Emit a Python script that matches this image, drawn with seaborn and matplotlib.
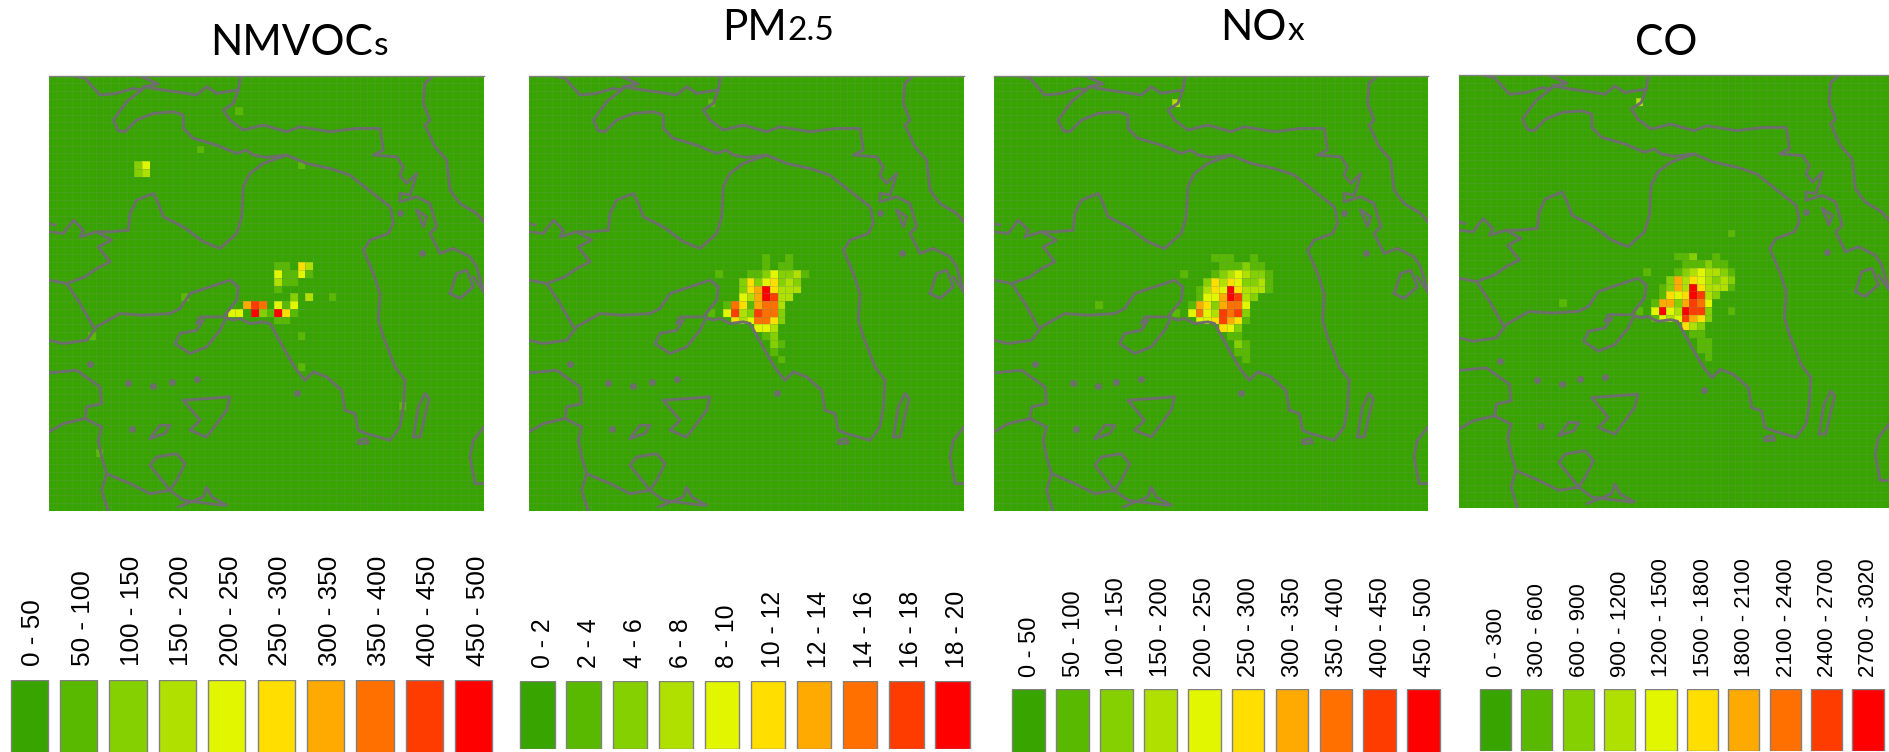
import numpy as np
import pandas as pd
import matplotlib
matplotlib.use('Agg')
import matplotlib.pyplot as plt
from matplotlib.colors import ListedColormap
from matplotlib.transforms import ScaledTranslation
import seaborn as sns

# colour classes, shared by all four panels
class_colors = ['#38a400', '#59b800', '#84d000', '#b0e000', '#e2f600',
                '#ffde00', '#ffaa00', '#ff7000', '#ff3c00', '#ff0000']

# emission classes per grid cell (col, row, class), everything else is class 0
nmvocs_cells = [
    (11, 11, 2), (12, 11, 4), (11, 12, 2), (12, 12, 3), (19, 9, 1), (32, 11, 1), (24, 4, 1),
    (17, 28, 1), (5, 33, 1), (6, 48, 1), (45, 42, 1), (23, 30, 4), (24, 30, 4),
    (29, 24, 1), (30, 24, 1), (32, 24, 5), (33, 24, 3),
    (29, 25, 4), (30, 25, 1), (31, 25, 1), (32, 25, 4), (33, 25, 1),
    (29, 26, 3), (30, 26, 1), (31, 26, 1), (29, 27, 1),
    (31, 28, 2), (33, 28, 3), (36, 28, 1),
    (25, 29, 6), (26, 29, 8), (27, 29, 7), (29, 29, 4), (30, 29, 1), (31, 29, 4),
    (26, 30, 9), (27, 30, 2), (28, 30, 1), (29, 30, 9), (30, 30, 5), (31, 30, 1),
    (29, 31, 1), (30, 31, 1), (32, 33, 1), (32, 37, 1),
]
pm25_cells = [
    (23, 3, 1), (30, 23, 1), (33, 23, 1), (30, 24, 1), (32, 24, 1), (33, 24, 1),
    (24, 25, 1), (28, 25, 1), (29, 25, 1), (30, 25, 2), (31, 25, 4), (32, 25, 2), (33, 25, 2), (34, 25, 3), (35, 25, 1),
    (27, 26, 2), (28, 26, 5), (29, 26, 2), (30, 26, 4), (31, 26, 5), (32, 26, 2), (33, 26, 3), (34, 26, 2),
    (27, 27, 2), (28, 27, 5), (29, 27, 6), (30, 27, 9), (31, 27, 5), (32, 27, 3), (33, 27, 3), (34, 27, 3),
    (27, 28, 4), (28, 28, 3), (29, 28, 6), (30, 28, 9), (31, 28, 8), (32, 28, 3), (33, 28, 3),
    (25, 29, 1), (26, 29, 7), (27, 29, 5), (28, 29, 1), (29, 29, 6), (30, 29, 7), (31, 29, 7), (32, 29, 3),
    (23, 30, 1), (25, 30, 4), (26, 30, 8), (27, 30, 3), (28, 30, 2), (29, 30, 8), (30, 30, 7), (31, 30, 7), (32, 30, 2),
    (26, 31, 5), (27, 31, 3), (28, 31, 4), (29, 31, 7), (30, 31, 7), (31, 31, 5), (32, 31, 2),
    (29, 32, 4), (30, 32, 4), (31, 32, 3), (30, 33, 1), (31, 33, 2), (31, 34, 2), (32, 34, 1), (31, 35, 1), (32, 36, 1),
]
nox_cells = [
    (23, 3, 3), (13, 29, 1), (28, 23, 1), (29, 23, 1), (30, 23, 1), (33, 23, 1),
    (29, 24, 1), (30, 24, 1), (31, 24, 1), (32, 24, 2), (33, 24, 1), (34, 24, 1),
    (24, 25, 1), (28, 25, 1), (29, 25, 2), (30, 25, 3), (31, 25, 4), (32, 25, 3), (33, 25, 2), (34, 25, 2), (35, 25, 1),
    (27, 26, 2), (28, 26, 5), (29, 26, 3), (30, 26, 5), (31, 26, 4), (32, 26, 2), (33, 26, 2), (34, 26, 3), (35, 26, 1),
    (26, 27, 1), (27, 27, 3), (28, 27, 5), (29, 27, 4), (30, 27, 9), (31, 27, 5), (32, 27, 3), (33, 27, 3), (34, 27, 3), (35, 27, 1),
    (26, 28, 1), (27, 28, 4), (28, 28, 4), (29, 28, 6), (30, 28, 9), (31, 28, 8), (32, 28, 3), (33, 28, 2),
    (25, 29, 1), (26, 29, 6), (27, 29, 5), (28, 29, 2), (29, 29, 6), (30, 29, 7), (31, 29, 7), (32, 29, 4),
    (23, 30, 1), (25, 30, 4), (26, 30, 7), (27, 30, 4), (28, 30, 3), (29, 30, 8), (30, 30, 7), (31, 30, 8), (32, 30, 2),
    (26, 31, 4), (27, 31, 4), (28, 31, 5), (29, 31, 8), (30, 31, 6), (31, 31, 5), (32, 31, 1),
    (29, 32, 5), (30, 32, 4), (31, 32, 2), (30, 33, 1), (31, 33, 1), (31, 34, 2), (32, 34, 1), (31, 35, 1), (32, 35, 1), (32, 36, 1),
]
co_cells = [
    (23, 3, 3), (35, 20, 1), (13, 29, 1), (28, 23, 1), (29, 23, 1), (30, 23, 2), (33, 23, 1),
    (29, 24, 1), (30, 24, 1), (31, 24, 1), (32, 24, 2), (33, 24, 1), (34, 24, 1),
    (24, 25, 1), (28, 25, 1), (29, 25, 2), (30, 25, 3), (31, 25, 4), (32, 25, 3), (33, 25, 3), (34, 25, 2), (35, 25, 1),
    (27, 26, 2), (28, 26, 6), (29, 26, 3), (30, 26, 5), (31, 26, 4), (32, 26, 3), (33, 26, 2), (34, 26, 3), (35, 26, 2),
    (26, 27, 1), (27, 27, 2), (28, 27, 6), (29, 27, 3), (30, 27, 9), (31, 27, 5), (32, 27, 3), (33, 27, 3), (34, 27, 3), (35, 27, 1),
    (26, 28, 1), (27, 28, 5), (28, 28, 4), (29, 28, 5), (30, 28, 9), (31, 28, 8), (32, 28, 3), (33, 28, 2),
    (25, 29, 1), (26, 29, 6), (27, 29, 6), (28, 29, 2), (29, 29, 6), (30, 29, 8), (31, 29, 7), (32, 29, 4),
    (23, 30, 1), (25, 30, 4), (26, 30, 9), (27, 30, 4), (28, 30, 3), (29, 30, 9), (30, 30, 8), (31, 30, 8), (32, 30, 2), (35, 30, 1),
    (25, 31, 1), (26, 31, 4), (27, 31, 3), (28, 31, 4), (29, 31, 8), (30, 31, 6), (31, 31, 5), (32, 31, 2),
    (29, 32, 5), (30, 32, 3), (31, 32, 2), (30, 33, 1), (31, 33, 1), (31, 34, 1), (32, 34, 1), (31, 35, 1), (32, 35, 1), (32, 36, 1),
]

# legend class labels
nmvocs_labels = ['0 - 50', '50 - 100', '100 - 150', '150 - 200', '200 - 250',
                 '250 - 300', '300 - 350', '350 - 400', '400 - 450', '450 - 500']
pm25_labels = ['0 - 2', '2 - 4', '4 - 6', '6 - 8', '8 - 10',
               '10 - 12', '12 - 14', '14 - 16', '16 - 18', '18 - 20']
nox_labels = list(nmvocs_labels)
co_labels = ['0 - 300', '300 - 600', '600 - 900', '900 - 1200', '1200 - 1500',
             '1500 - 1800', '1800 - 2100', '2100 - 2400', '2400 - 2700', '2700 - 3020']

# coastlines, in units where the map spans 0-1305
coast_lines = [
    [(73, 0), (108, 8), (153, 58), (203, 53), (253, 38), (278, 43), (288, 33), (343, 43), (413, 53), (443, 58), (473, 33), (503, 53), (533, 48), (568, 43), (575, 0)],
    [(273, 0), (328, 25), (283, 33)],
    [(568, 43), (553, 83), (523, 103), (543, 133), (583, 163), (643, 148), (713, 168), (753, 153), (843, 168), (923, 158), (993, 158), (1003, 223), (973, 238), (1043, 243), (1063, 273), (1053, 298), (1073, 323), (1103, 293), (1093, 328), (1083, 358), (1053, 353), (1053, 378), (1103, 363), (1143, 383), (1163, 453), (1143, 473), (1173, 533), (1213, 518), (1263, 543), (1283, 573), (1305, 648)],
    [(283, 38), (233, 78), (193, 133), (208, 165), (228, 168), (263, 133), (313, 113), (373, 108), (403, 118), (403, 158), (433, 188), (503, 208), (563, 233), (593, 223), (613, 238), (653, 245), (713, 238), (773, 263), (843, 278), (903, 298), (953, 338), (1023, 393), (1028, 413), (1033, 443), (1018, 473), (963, 493), (943, 523), (973, 593), (993, 653), (988, 733), (1003, 783), (1023, 833), (1038, 873), (1068, 913), (1063, 993), (1053, 1053), (1023, 1093), (953, 1073), (928, 1063), (918, 1013), (888, 1003), (878, 943), (833, 903), (793, 888), (768, 913), (743, 883), (713, 833), (663, 743), (643, 738), (603, 743), (573, 728), (553, 733), (523, 723), (563, 673), (568, 633), (543, 613), (483, 633), (423, 653), (393, 698), (363, 713), (283, 718), (213, 713), (143, 753), (113, 793), (43, 803), (0, 793)],
    [(713, 238), (643, 263), (603, 293), (583, 333), (578, 423), (563, 473), (513, 518), (463, 498), (403, 453), (343, 423), (328, 383), (313, 353), (263, 373), (243, 413), (238, 463), (183, 468), (143, 468), (188, 493), (148, 513), (183, 558), (143, 578), (108, 603), (53, 623), (0, 613)],
    [(0, 468), (43, 473), (73, 433), (103, 463), (93, 483), (143, 468)],
    [(0, 443), (18, 448)],
    [(53, 623), (93, 683), (133, 753)],
    [(513, 723), (453, 723), (443, 743), (463, 733), (443, 763), (393, 773), (378, 803), (423, 833), (473, 813), (513, 763), (528, 733)],
    [(0, 891), (83, 883), (153, 933), (158, 983), (113, 993), (108, 1028), (43, 1043), (0, 1068)],
    [(108, 1028), (158, 1053), (148, 1093), (158, 1143), (173, 1193), (243, 1223), (303, 1253), (363, 1243), (403, 1273), (443, 1278), (523, 1288)],
    [(363, 1243), (303, 1168), (323, 1143), (383, 1133), (408, 1163), (383, 1213), (363, 1243)],
    [(173, 1193), (158, 1243), (178, 1306)],
    [(388, 1293), (463, 1263), (473, 1233), (488, 1263), (533, 1288)],
    [(403, 973), (543, 963), (533, 1003), (503, 1043), (473, 1083), (423, 1063), (453, 1033), (403, 973)],
    [(303, 1088), (333, 1048), (363, 1048), (348, 1073), (303, 1088)],
    [(1093, 1083), (1108, 993), (1128, 953), (1140, 968), (1113, 1083), (1093, 1083)],
    [(928, 1093), (953, 1088), (958, 1101), (928, 1103), (928, 1093)],
    [(1153, 0), (1128, 23), (1123, 83), (1143, 133), (1128, 148), (1158, 213), (1193, 253), (1203, 343), (1233, 383), (1283, 413), (1305, 438)],
    [(1203, 653), (1223, 593), (1253, 583), (1273, 633), (1233, 668), (1203, 653)],
    [(1305, 648), (1273, 603)],
    [(1103, 403), (1133, 423), (1123, 453), (1103, 403)],
    [(1305, 1053), (1273, 1093), (1263, 1143), (1278, 1223), (1305, 1223)],
]
coast_spots = [(238, 921), (313, 931), (248, 1058), (743, 951), (368, 918), (443, 910), (1118, 533), (1053, 413), (123, 863)]

map_boxes = [(49, 75.7, 484, 511), (529, 75.7, 964, 511), (994, 75.7, 1428, 511), (1459, 75, 1889, 507.7)]
# swatch left, right, pitch, top, bottom, label gap, font size, label shift
legend_boxes = [(10.6, 47.8, 49.4, 680, 790, 14, 18.8, 4), (520.3, 554.7, 46.1, 680.7, 749, 13, 17.8, 5),
                (1012.3, 1045, 43.9, 689, 790, 12, 17, 1), (1479.7, 1511, 41.4, 689, 750.7, 12, 16, 1)]
W, H = 1889, 752
N = 56

sns.set_theme(style='white')
plt.rcParams['font.family'] = ['Liberation Sans', 'DejaVu Sans']

fig = plt.figure(figsize=(W / 100, H / 100), dpi=100)
cmap = ListedColormap(class_colors)


def add_axes_px(x0, y0, x1, y1):
    return fig.add_axes([x0 / W, 1 - y1 / H, (x1 - x0) / W, (y1 - y0) / H])


def draw_map(box, cells):
    grid = np.zeros((N, N), dtype=int)
    for c, r, v in cells:
        grid[r, c] = v
    ax = add_axes_px(*box)
    sns.heatmap(grid, ax=ax, cmap=cmap, vmin=-0.5, vmax=9.5, cbar=False,
                linewidths=0.5, linecolor=(0.42, 0.58, 0.36, 0.3), xticklabels=False, yticklabels=False)
    k = N / 1305
    for line in coast_lines:
        xs = [p[0] * k for p in line]
        ys = [p[1] * k for p in line]
        ax.plot(xs, ys, color='#6e6e6e', lw=2.1, solid_joinstyle='round')
    ax.plot([p[0] * k for p in coast_spots], [p[1] * k for p in coast_spots], ls='none',
            marker='o', ms=4, color='#6e6e6e')
    ax.set_xlim(0, N)
    ax.set_ylim(N, 0)
    ax.spines['top'].set_visible(True)
    ax.spines['top'].set_color('#808080')
    ax.spines['top'].set_linewidth(1)


def draw_legend(box, labels):
    x0, x1, pitch, top, bottom, pad, fs, shift = box
    w = x1 - x0
    gap = pitch - w
    ax = add_axes_px(x0 - gap / 2, top, x0 - gap / 2 + pitch * 10, bottom)
    df = pd.DataFrame({'label': labels, 'height': [1] * 10})
    sns.barplot(data=df, x='label', y='height', hue='label', palette=class_colors, legend=False,
                width=w / pitch, edgecolor='#808080', linewidth=1, saturation=1, ax=ax)
    ax.set_xlim(-0.5, 9.5)
    ax.set_ylim(0, 1)
    ax.set_xlabel('')
    ax.set_ylabel('')
    ax.set_yticks([])
    ax.xaxis.tick_top()
    ax.tick_params(axis='x', length=0, pad=pad * 0.72, labelsize=fs, labelcolor='black')
    offset = ScaledTranslation(shift / 100, 0, fig.dpi_scale_trans)
    for lab in ax.get_xticklabels():
        lab.set(rotation=90, ha='center', va='bottom')
        lab.set_transform(lab.get_transform() + offset)
    sns.despine(ax=ax, left=True, bottom=True, top=True, right=True)


def draw_title(x, y, big, small):
    t = fig.text(x / W, 1 - y / H, big, fontsize=30.5, family='Lato', color='black', va='baseline')
    if small:
        box = t.get_window_extent(fig.canvas.get_renderer())
        fig.text(box.x1 / W + 0.0005, 1 - y / H, small, fontsize=24, family='Lato', color='black', va='baseline')


draw_map(map_boxes[0], nmvocs_cells)
draw_map(map_boxes[1], pm25_cells)
draw_map(map_boxes[2], nox_cells)
draw_map(map_boxes[3], co_cells)

draw_legend(legend_boxes[0], nmvocs_labels)
draw_legend(legend_boxes[1], pm25_labels)
draw_legend(legend_boxes[2], nox_labels)
draw_legend(legend_boxes[3], co_labels)

draw_title(210, 55, 'NMVOC', 's')
draw_title(722, 40, 'PM', '2.5')
draw_title(1220, 40, 'NO', 'x')
draw_title(1635, 55, 'CO', '')

fig.savefig('out.png', dpi=100)
